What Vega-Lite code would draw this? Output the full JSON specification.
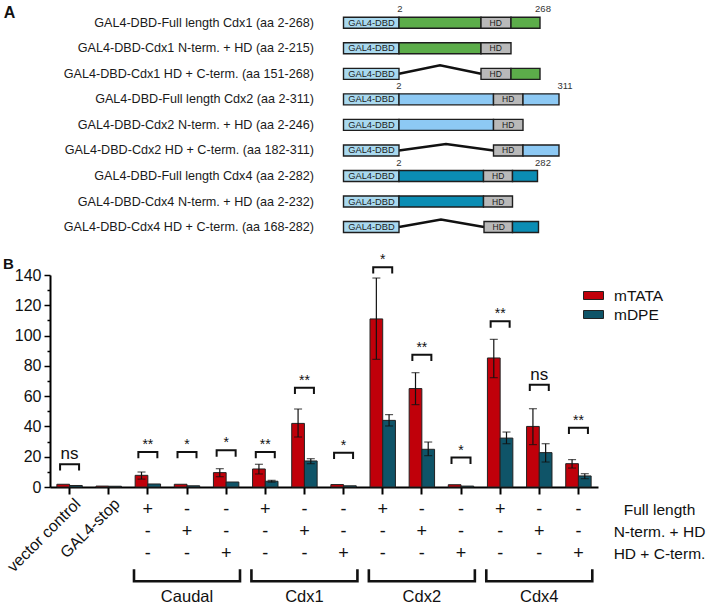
{
  "$schema": "https://vega.github.io/schema/vega-lite/v6.json",
  "padding": {"left": 2, "top": 0, "right": 0, "bottom": 0},
  "spacing": 0,
  "resolve": {"scale": {"fill": "independent"}, "legend": {"fill": "independent"}},
  "config": {
    "font": "Liberation Sans",
    "view": {"stroke": null},
    "axis": {"labelFont": "Liberation Sans", "titleFont": "Liberation Sans", "grid": false},
    "legend": {"labelFont": "Liberation Sans"}
  },
  "datasets": {
    "segs": [
      {"row": 1, "kind": "GAL4-DBD", "start": -109, "end": 2},
      {"row": 1, "kind": "Cdx1", "start": 2, "end": 166},
      {"row": 1, "kind": "HD", "start": 166, "end": 226},
      {"row": 1, "kind": "Cdx1", "start": 226, "end": 284},
      {"row": 2, "kind": "GAL4-DBD", "start": -109, "end": 2},
      {"row": 2, "kind": "Cdx1", "start": 2, "end": 166},
      {"row": 2, "kind": "HD", "start": 166, "end": 226},
      {"row": 3, "kind": "GAL4-DBD", "start": -109, "end": 2},
      {"row": 3, "kind": "HD", "start": 166, "end": 226},
      {"row": 3, "kind": "Cdx1", "start": 226, "end": 284},
      {"row": 4, "kind": "GAL4-DBD", "start": -109, "end": 2},
      {"row": 4, "kind": "Cdx2", "start": 2, "end": 191},
      {"row": 4, "kind": "HD", "start": 191, "end": 250},
      {"row": 4, "kind": "Cdx2", "start": 250, "end": 322},
      {"row": 5, "kind": "GAL4-DBD", "start": -109, "end": 2},
      {"row": 5, "kind": "Cdx2", "start": 2, "end": 191},
      {"row": 5, "kind": "HD", "start": 191, "end": 250},
      {"row": 6, "kind": "GAL4-DBD", "start": -109, "end": 2},
      {"row": 6, "kind": "HD", "start": 191, "end": 250},
      {"row": 6, "kind": "Cdx2", "start": 250, "end": 322},
      {"row": 7, "kind": "GAL4-DBD", "start": -109, "end": 2},
      {"row": 7, "kind": "Cdx4", "start": 2, "end": 171},
      {"row": 7, "kind": "HD", "start": 171, "end": 229},
      {"row": 7, "kind": "Cdx4", "start": 229, "end": 279},
      {"row": 8, "kind": "GAL4-DBD", "start": -109, "end": 2},
      {"row": 8, "kind": "Cdx4", "start": 2, "end": 171},
      {"row": 8, "kind": "HD", "start": 171, "end": 229},
      {"row": 9, "kind": "GAL4-DBD", "start": -109, "end": 2},
      {"row": 9, "kind": "HD", "start": 172, "end": 229},
      {"row": 9, "kind": "Cdx4", "start": 229, "end": 281}
    ],
    "dels": [
      {"row": 3, "pos": 2, "y": 3}, {"row": 3, "pos": 84, "y": 2.66}, {"row": 3, "pos": 166, "y": 3},
      {"row": 6, "pos": 2, "y": 6}, {"row": 6, "pos": 96, "y": 5.75}, {"row": 6, "pos": 191, "y": 6},
      {"row": 9, "pos": 2, "y": 9}, {"row": 9, "pos": 86, "y": 8.7}, {"row": 9, "pos": 172, "y": 9}
    ],
    "names": [
      {"row": 1, "name": "GAL4-DBD-Full length Cdx1 (aa 2-268)"},
      {"row": 2, "name": "GAL4-DBD-Cdx1 N-term. + HD (aa 2-215)"},
      {"row": 3, "name": "GAL4-DBD-Cdx1 HD + C-term. (aa 151-268)"},
      {"row": 4, "name": "GAL4-DBD-Full length Cdx2 (aa 2-311)"},
      {"row": 5, "name": "GAL4-DBD-Cdx2 N-term. + HD (aa 2-246)"},
      {"row": 6, "name": "GAL4-DBD-Cdx2 HD + C-term. (aa 182-311)"},
      {"row": 7, "name": "GAL4-DBD-Full length Cdx4 (aa 2-282)"},
      {"row": 8, "name": "GAL4-DBD-Cdx4 N-term. + HD (aa 2-232)"},
      {"row": 9, "name": "GAL4-DBD-Cdx4 HD + C-term. (aa 168-282)"}
    ],
    "ends": [
      {"row": 1, "pos": 4, "label": "2"}, {"row": 1, "pos": 290, "label": "268"},
      {"row": 4, "pos": 2, "label": "2"}, {"row": 4, "pos": 334, "label": "311"},
      {"row": 7, "pos": 2, "label": "2"}, {"row": 7, "pos": 290, "label": "282"}
    ],
    "bars": [
      {"construct": "vector control", "promoter": "mTATA", "value": 1.8},
      {"construct": "vector control", "promoter": "mDPE", "value": 1.0},
      {"construct": "GAL4-stop", "promoter": "mTATA", "value": 0.6},
      {"construct": "GAL4-stop", "promoter": "mDPE", "value": 0.5},
      {"construct": "Caudal FL", "promoter": "mTATA", "value": 7.7, "lo": 5.2, "hi": 9.9},
      {"construct": "Caudal FL", "promoter": "mDPE", "value": 2.0},
      {"construct": "Caudal N", "promoter": "mTATA", "value": 1.8},
      {"construct": "Caudal N", "promoter": "mDPE", "value": 0.8},
      {"construct": "Caudal HC", "promoter": "mTATA", "value": 9.5, "lo": 6.8, "hi": 12.1},
      {"construct": "Caudal HC", "promoter": "mDPE", "value": 3.3},
      {"construct": "Cdx1 FL", "promoter": "mTATA", "value": 11.9, "lo": 8.6, "hi": 15.0},
      {"construct": "Cdx1 FL", "promoter": "mDPE", "value": 3.8, "lo": 3.2, "hi": 4.4},
      {"construct": "Cdx1 N", "promoter": "mTATA", "value": 42.0, "lo": 33.0, "hi": 51.5},
      {"construct": "Cdx1 N", "promoter": "mDPE", "value": 17.2, "lo": 15.4, "hi": 18.7},
      {"construct": "Cdx1 HC", "promoter": "mTATA", "value": 1.6},
      {"construct": "Cdx1 HC", "promoter": "mDPE", "value": 0.8},
      {"construct": "Cdx2 FL", "promoter": "mTATA", "value": 111.0, "lo": 84.3, "hi": 138.0},
      {"construct": "Cdx2 FL", "promoter": "mDPE", "value": 44.0, "lo": 40.3, "hi": 47.8},
      {"construct": "Cdx2 N", "promoter": "mTATA", "value": 65.0, "lo": 54.4, "hi": 75.5},
      {"construct": "Cdx2 N", "promoter": "mDPE", "value": 24.9, "lo": 20.7, "hi": 29.7},
      {"construct": "Cdx2 HC", "promoter": "mTATA", "value": 1.5},
      {"construct": "Cdx2 HC", "promoter": "mDPE", "value": 0.6},
      {"construct": "Cdx4 FL", "promoter": "mTATA", "value": 85.2, "lo": 72.2, "hi": 97.5},
      {"construct": "Cdx4 FL", "promoter": "mDPE", "value": 32.3, "lo": 28.6, "hi": 36.3},
      {"construct": "Cdx4 N", "promoter": "mTATA", "value": 40.0, "lo": 28.0, "hi": 51.7},
      {"construct": "Cdx4 N", "promoter": "mDPE", "value": 22.7, "lo": 16.5, "hi": 28.6},
      {"construct": "Cdx4 HC", "promoter": "mTATA", "value": 15.4, "lo": 12.5, "hi": 18.1},
      {"construct": "Cdx4 HC", "promoter": "mDPE", "value": 7.3, "lo": 5.5, "hi": 8.8}
    ],
    "sig": [
      {"construct": "vector control", "br": 15.0, "label": "ns"},
      {"construct": "Caudal FL", "br": 23.1, "label": "**"},
      {"construct": "Caudal N", "br": 23.1, "label": "*"},
      {"construct": "Caudal HC", "br": 24.2, "label": "*"},
      {"construct": "Cdx1 FL", "br": 23.1, "label": "**"},
      {"construct": "Cdx1 N", "br": 65.6, "label": "**"},
      {"construct": "Cdx1 HC", "br": 22.7, "label": "*"},
      {"construct": "Cdx2 FL", "br": 145.2, "label": "*"},
      {"construct": "Cdx2 N", "br": 87.4, "label": "**"},
      {"construct": "Cdx2 HC", "br": 19.4, "label": "*"},
      {"construct": "Cdx4 FL", "br": 109.4, "label": "**"},
      {"construct": "Cdx4 N", "br": 67.6, "label": "ns"},
      {"construct": "Cdx4 HC", "br": 39.2, "label": "**"}
    ],
    "signs": [
      {"construct": "Caudal FL", "feature": "Full length", "sign": "+"},
      {"construct": "Caudal FL", "feature": "N-term. + HD", "sign": "-"},
      {"construct": "Caudal FL", "feature": "HD + C-term.", "sign": "-"},
      {"construct": "Caudal N", "feature": "Full length", "sign": "-"},
      {"construct": "Caudal N", "feature": "N-term. + HD", "sign": "+"},
      {"construct": "Caudal N", "feature": "HD + C-term.", "sign": "-"},
      {"construct": "Caudal HC", "feature": "Full length", "sign": "-"},
      {"construct": "Caudal HC", "feature": "N-term. + HD", "sign": "-"},
      {"construct": "Caudal HC", "feature": "HD + C-term.", "sign": "+"},
      {"construct": "Cdx1 FL", "feature": "Full length", "sign": "+"},
      {"construct": "Cdx1 FL", "feature": "N-term. + HD", "sign": "-"},
      {"construct": "Cdx1 FL", "feature": "HD + C-term.", "sign": "-"},
      {"construct": "Cdx1 N", "feature": "Full length", "sign": "-"},
      {"construct": "Cdx1 N", "feature": "N-term. + HD", "sign": "+"},
      {"construct": "Cdx1 N", "feature": "HD + C-term.", "sign": "-"},
      {"construct": "Cdx1 HC", "feature": "Full length", "sign": "-"},
      {"construct": "Cdx1 HC", "feature": "N-term. + HD", "sign": "-"},
      {"construct": "Cdx1 HC", "feature": "HD + C-term.", "sign": "+"},
      {"construct": "Cdx2 FL", "feature": "Full length", "sign": "+"},
      {"construct": "Cdx2 FL", "feature": "N-term. + HD", "sign": "-"},
      {"construct": "Cdx2 FL", "feature": "HD + C-term.", "sign": "-"},
      {"construct": "Cdx2 N", "feature": "Full length", "sign": "-"},
      {"construct": "Cdx2 N", "feature": "N-term. + HD", "sign": "+"},
      {"construct": "Cdx2 N", "feature": "HD + C-term.", "sign": "-"},
      {"construct": "Cdx2 HC", "feature": "Full length", "sign": "-"},
      {"construct": "Cdx2 HC", "feature": "N-term. + HD", "sign": "-"},
      {"construct": "Cdx2 HC", "feature": "HD + C-term.", "sign": "+"},
      {"construct": "Cdx4 FL", "feature": "Full length", "sign": "+"},
      {"construct": "Cdx4 FL", "feature": "N-term. + HD", "sign": "-"},
      {"construct": "Cdx4 FL", "feature": "HD + C-term.", "sign": "-"},
      {"construct": "Cdx4 N", "feature": "Full length", "sign": "-"},
      {"construct": "Cdx4 N", "feature": "N-term. + HD", "sign": "+"},
      {"construct": "Cdx4 N", "feature": "HD + C-term.", "sign": "-"},
      {"construct": "Cdx4 HC", "feature": "Full length", "sign": "-"},
      {"construct": "Cdx4 HC", "feature": "N-term. + HD", "sign": "-"},
      {"construct": "Cdx4 HC", "feature": "HD + C-term.", "sign": "+"}
    ],
    "controls": [
      {"construct": "vector control", "label": "vector control"},
      {"construct": "GAL4-stop", "label": "GAL4-stop"}
    ],
    "families": [
      {"construct": "Caudal N", "family": "Caudal"},
      {"construct": "Cdx1 N", "family": "Cdx1"},
      {"construct": "Cdx2 N", "family": "Cdx2"},
      {"construct": "Cdx4 N", "family": "Cdx4"}
    ]
  },
  "vconcat": [
    {
      "width": 662,
      "height": 253,
      "layer": [
        {
          "data": {"name": "dels"},
          "mark": {"type": "line", "color": "#111111", "strokeWidth": 2.5},
          "encoding": {
            "x": {"field": "pos", "type": "quantitative", "scale": {"domain": [-696, 628], "nice": false, "zero": false}, "axis": null},
            "y": {"field": "y", "type": "quantitative", "scale": {"domain": [0.3045, 9.82], "reverse": true, "nice": false, "zero": false}, "axis": null},
            "detail": {"field": "row"},
            "order": {"field": "pos"}
          }
        },
        {
          "data": {"name": "segs"},
          "mark": {"type": "bar", "orient": "horizontal", "stroke": "#1e1e1e", "strokeWidth": 1.4},
          "encoding": {
            "x": {"field": "start", "type": "quantitative", "scale": {"domain": [-696, 628], "nice": false, "zero": false}, "axis": null},
            "x2": {"field": "end"},
            "y": {"field": "row", "type": "quantitative", "scale": {"domain": [0.3045, 9.82], "reverse": true, "nice": false, "zero": false}, "axis": null},
            "size": {"value": 11},
            "fill": {"field": "kind", "type": "nominal", "scale": {"domain": ["GAL4-DBD", "Cdx1", "Cdx2", "Cdx4", "HD"], "range": ["#A9D9EF", "#5CAD4A", "#8DC9F4", "#0B8DB4", "#B9B9B9"]}, "legend": null}
          }
        },
        {
          "data": {"name": "segs"},
          "transform": [{"filter": "datum.kind == 'GAL4-DBD'"}],
          "mark": {"type": "text", "fontSize": 9.3, "color": "#1a1a1a", "align": "center", "baseline": "middle", "dx": 28},
          "encoding": {
            "x": {"field": "start", "type": "quantitative", "scale": {"domain": [-696, 628], "nice": false, "zero": false}, "axis": null},
            "y": {"field": "row", "type": "quantitative", "scale": {"domain": [0.3045, 9.82], "reverse": true, "nice": false, "zero": false}, "axis": null},
            "text": {"field": "kind"}
          }
        },
        {
          "data": {"name": "segs"},
          "transform": [{"filter": "datum.kind == 'HD'"}],
          "mark": {"type": "text", "fontSize": 8.5, "color": "#1a1a1a", "align": "center", "baseline": "middle", "dx": 14.7},
          "encoding": {
            "x": {"field": "start", "type": "quantitative", "scale": {"domain": [-696, 628], "nice": false, "zero": false}, "axis": null},
            "y": {"field": "row", "type": "quantitative", "scale": {"domain": [0.3045, 9.82], "reverse": true, "nice": false, "zero": false}, "axis": null},
            "text": {"field": "kind"}
          }
        },
        {
          "data": {"name": "ends"},
          "mark": {"type": "text", "fontSize": 9.5, "color": "#333333", "align": "center", "baseline": "middle", "dy": -13.3},
          "encoding": {
            "x": {"field": "pos", "type": "quantitative", "scale": {"domain": [-696, 628], "nice": false, "zero": false}, "axis": null},
            "y": {"field": "row", "type": "quantitative", "scale": {"domain": [0.3045, 9.82], "reverse": true, "nice": false, "zero": false}, "axis": null},
            "text": {"field": "label"}
          }
        },
        {
          "data": {"name": "names"},
          "mark": {"type": "text", "fontSize": 12.6, "color": "#1a1a1a", "align": "right", "baseline": "middle"},
          "encoding": {
            "x": {"datum": -168, "type": "quantitative", "scale": {"domain": [-696, 628], "nice": false, "zero": false}, "axis": null},
            "y": {"field": "row", "type": "quantitative", "scale": {"domain": [0.3045, 9.82], "reverse": true, "nice": false, "zero": false}, "axis": null},
            "text": {"field": "name"}
          }
        },
        {
          "data": {"values": [{"letter": "A"}]},
          "mark": {"type": "text", "fontSize": 16, "fontWeight": "bold", "color": "#111111", "align": "center", "baseline": "middle"},
          "encoding": {
            "x": {"datum": -777, "type": "quantitative", "scale": {"domain": [-696, 628], "nice": false, "zero": false}, "axis": null},
            "y": {"datum": 0.62, "type": "quantitative", "scale": {"domain": [0.3045, 9.82], "reverse": true, "nice": false, "zero": false}, "axis": null},
            "text": {"field": "letter"}
          }
        }
      ]
    },
    {
      "width": 548,
      "height": 212,
      "encoding": {
        "x": {
          "field": "construct", "type": "nominal",
          "sort": ["vector control", "GAL4-stop", "Caudal FL", "Caudal N", "Caudal HC", "Cdx1 FL", "Cdx1 N", "Cdx1 HC", "Cdx2 FL", "Cdx2 N", "Cdx2 HC", "Cdx4 FL", "Cdx4 N", "Cdx4 HC"],
          "scale": {"domain": ["vector control", "GAL4-stop", "Caudal FL", "Caudal N", "Caudal HC", "Cdx1 FL", "Cdx1 N", "Cdx1 HC", "Cdx2 FL", "Cdx2 N", "Cdx2 HC", "Cdx4 FL", "Cdx4 N", "Cdx4 HC"], "paddingInner": 0, "paddingOuter": 0},
          "axis": {"labels": false, "title": null, "domainWidth": 2, "domainColor": "#000000", "tickSize": 7, "tickWidth": 2, "tickColor": "#000000"}
        }
      },
      "layer": [
        {
          "data": {"name": "bars"},
          "mark": {"type": "bar", "stroke": "#222222", "strokeWidth": 1},
          "encoding": {
            "xOffset": {"field": "promoter", "type": "nominal", "sort": ["mTATA", "mDPE"], "scale": {"domain": ["mTATA", "mDPE"], "paddingOuter": 0.54, "paddingInner": 0}},
            "y": {
              "field": "value", "type": "quantitative",
              "scale": {"domain": [0, 140], "nice": false},
              "axis": {"values": [0, 20, 40, 60, 80, 100, 120, 140], "tickSize": 6, "tickWidth": 1.5, "tickColor": "#000000", "domainWidth": 2, "domainColor": "#000000", "labelFontSize": 16, "labelColor": "#111111", "labelPadding": 3, "title": "B", "titleAngle": 0, "titleFontSize": 15, "titleFontWeight": "bold", "titleColor": "#111111", "titleX": -42, "titleY": -12, "titleAlign": "center", "titleBaseline": "middle"}
            },
            "fill": {
              "field": "promoter", "type": "nominal", "sort": ["mTATA", "mDPE"],
              "scale": {"domain": ["mTATA", "mDPE"], "range": ["#C0000A", "#0F5468"]},
              "legend": {"orient": "none", "legendX": 533, "legendY": 10, "title": null, "symbolType": "M-1,-0.4H1V0.4H-1Z", "symbolSize": 400, "symbolStrokeColor": "#222222", "symbolStrokeWidth": 1, "labelFontSize": 15.5, "labelColor": "#111111", "labelOffset": 10, "rowPadding": 0, "padding": 0}
            }
          }
        },
        {
          "data": {"name": "bars"},
          "mark": {"type": "rule", "color": "#111111", "strokeWidth": 1.2},
          "encoding": {
            "xOffset": {"field": "promoter", "type": "nominal", "sort": ["mTATA", "mDPE"]},
            "y": {"field": "lo", "type": "quantitative", "axis": {"orient": "left", "values": [10, 30, 50, 70, 90, 110, 130], "labels": false, "domain": false, "tickSize": 3, "tickWidth": 1.5, "tickColor": "#000000", "title": null}},
            "y2": {"field": "hi"}
          }
        },
        {
          "data": {"name": "bars"},
          "mark": {"type": "tick", "orient": "horizontal", "color": "#111111", "size": 8, "thickness": 1.2},
          "encoding": {
            "xOffset": {"field": "promoter", "type": "nominal", "sort": ["mTATA", "mDPE"]},
            "y": {"field": "hi", "type": "quantitative", "axis": null}
          }
        },
        {
          "data": {"name": "bars"},
          "mark": {"type": "tick", "orient": "horizontal", "color": "#111111", "size": 8, "thickness": 1.2},
          "encoding": {
            "xOffset": {"field": "promoter", "type": "nominal", "sort": ["mTATA", "mDPE"]},
            "y": {"field": "lo", "type": "quantitative", "axis": null}
          }
        },
        {
          "data": {"name": "sig"},
          "mark": {"type": "point", "shape": "M-1,0.667V0H1V0.667", "size": 361, "filled": false, "strokeWidth": 2, "color": "#111111", "opacity": 1},
          "encoding": {
            "y": {"field": "br", "type": "quantitative", "axis": null}
          }
        },
        {
          "data": {"name": "sig"},
          "transform": [{"filter": "datum.label != 'ns'"}],
          "mark": {"type": "text", "fontSize": 14, "color": "#111111", "align": "center", "baseline": "bottom", "dy": 0},
          "encoding": {
            "y": {"field": "br", "type": "quantitative", "axis": null},
            "text": {"field": "label"}
          }
        },
        {
          "data": {"name": "sig"},
          "transform": [{"filter": "datum.label == 'ns'"}],
          "mark": {"type": "text", "fontSize": 17, "color": "#111111", "align": "center", "baseline": "bottom", "dy": -1},
          "encoding": {
            "y": {"field": "br", "type": "quantitative", "axis": null},
            "text": {"field": "label"}
          }
        }
      ],
      "resolve": {"axis": {"y": "independent"}}
    },
    {
      "width": 548,
      "height": 111,
      "encoding": {
        "x": {
          "field": "construct", "type": "nominal",
          "sort": ["vector control", "GAL4-stop", "Caudal FL", "Caudal N", "Caudal HC", "Cdx1 FL", "Cdx1 N", "Cdx1 HC", "Cdx2 FL", "Cdx2 N", "Cdx2 HC", "Cdx4 FL", "Cdx4 N", "Cdx4 HC"],
          "scale": {"domain": ["vector control", "GAL4-stop", "Caudal FL", "Caudal N", "Caudal HC", "Cdx1 FL", "Cdx1 N", "Cdx1 HC", "Cdx2 FL", "Cdx2 N", "Cdx2 HC", "Cdx4 FL", "Cdx4 N", "Cdx4 HC"], "paddingInner": 0, "paddingOuter": 0},
          "axis": null
        }
      },
      "layer": [
        {
          "data": {"name": "signs"},
          "mark": {"type": "text", "fontSize": 18, "color": "#111111", "align": "center", "baseline": "middle"},
          "encoding": {
            "y": {
              "field": "feature", "type": "nominal",
              "scale": {"type": "point", "domain": ["Full length", "N-term. + HD", "HD + C-term.", "bracket", "name"], "padding": 0.55},
              "axis": {"orient": "right", "values": ["Full length", "N-term. + HD", "HD + C-term."], "domain": false, "ticks": false, "tickSize": 0, "labelPadding": 61, "labelAlign": "center", "labelBaseline": "middle", "labelFontSize": 15.5, "labelColor": "#111111", "title": null}
            },
            "text": {"field": "sign"}
          }
        },
        {
          "data": {"name": "controls"},
          "mark": {"type": "text", "fontSize": 16, "color": "#111111", "align": "right", "baseline": "middle", "angle": 315, "dx": 12},
          "encoding": {
            "y": {"datum": "Full length", "type": "nominal"},
            "text": {"field": "label"}
          }
        },
        {
          "data": {"name": "families"},
          "mark": {"type": "point", "shape": "M-1,-0.113V0.113H1V-0.113", "size": 11236, "filled": false, "strokeWidth": 2.6, "color": "#111111", "opacity": 1},
          "encoding": {
            "y": {"datum": "bracket", "type": "nominal"}
          }
        },
        {
          "data": {"name": "families"},
          "mark": {"type": "text", "fontSize": 16.5, "color": "#111111", "align": "center", "baseline": "middle"},
          "encoding": {
            "y": {"datum": "name", "type": "nominal"},
            "text": {"field": "family"}
          }
        }
      ]
    }
  ]
}
